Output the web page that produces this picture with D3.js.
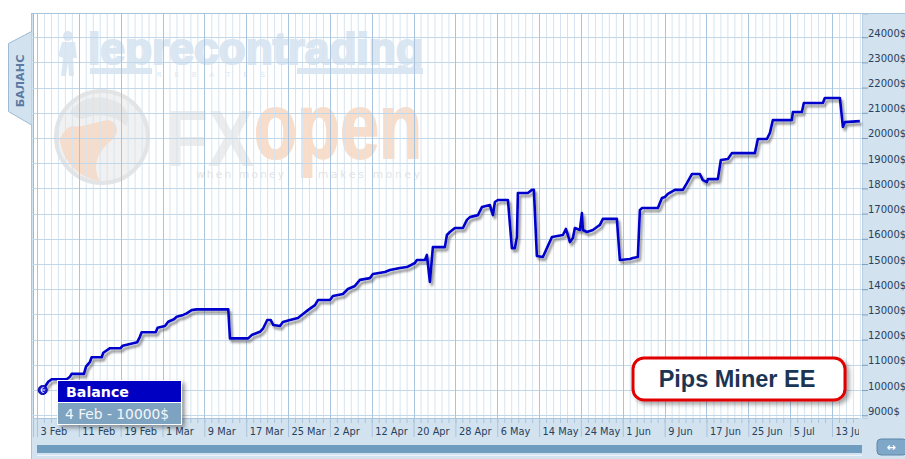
<!DOCTYPE html>
<html>
<head>
<meta charset="utf-8">
<script src="https://cdn.jsdelivr.net/npm/d3@7"></script>
<style>
  html, body { margin: 0; padding: 0; background: #ffffff; }
  svg { display: block; }
</style>
</head>
<body>
<svg id="chart" width="905" height="459" font-family="DejaVu Sans, Verdana, sans-serif"></svg>
<script>
// Trading-day positions (0 = 3 Feb, one unit per trading day) and account balance in $
const tradeDay = [0.82,1.62,2.11,4.26,4.73,4.97,6.74,7.03,7.60,7.84,9.28,9.51,10.47,12.00,12.29,13.33,14.38,14.77,15.01,17.02,17.30,18.35,18.82,19.64,20.03,20.97,21.46,22.18,22.90,27.43,27.67,30.29,30.78,31.97,32.44,33.02,33.51,33.88,34.84,35.27,36.27,37.42,38.14,38.85,39.86,40.29,42.01,42.44,43.87,44.59,45.59,46.31,47.74,48.17,49.89,50.61,52.04,53.05,54.19,54.48,55.63,55.91,56.34,56.77,58.49,58.78,59.21,59.93,61.08,61.65,62.08,63.23,63.80,64.95,65.23,65.38,65.66,66.09,67.53,68.10,68.53,68.82,68.96,70.39,70.97,71.25,71.68,72.54,73.12,73.84,75.41,75.84,76.13,76.42,76.85,77.13,77.85,78.14,78.28,78.85,79.71,80.29,80.72,81.15,83.15,83.58,85.02,85.45,86.16,86.45,86.74,89.03,89.61,90.04,90.47,91.47,92.62,93.19,93.91,95.05,95.48,96.06,96.20,97.63,98.06,99.07,99.64,102.94,103.37,104.66,105.09,105.52,108.24,108.39,109.68,109.96,112.69,112.97,115.13,115.56,115.84,117.99];
const balance = [10000,10330,10430,10430,10530,10640,10640,10930,11120,11300,11300,11480,11660,11660,11760,11830,11900,12120,12290,12290,12470,12540,12710,12810,12910,12980,13040,13170,13200,13200,12050,12050,12180,12310,12450,12780,12780,12580,12540,12700,12780,12860,13020,13170,13370,13570,13570,13730,13810,14010,14130,14370,14440,14600,14680,14760,14840,14880,15040,15160,15160,15360,14290,15670,15670,16150,16270,16430,16430,16750,16860,16940,17260,17340,17060,16940,17460,17540,17540,15630,15630,16070,17820,17820,17940,17940,15320,15280,15630,16070,16150,16390,16150,15870,16030,16430,16350,17020,16350,16270,16350,16470,16550,16790,16790,15160,15200,15240,15280,17140,17220,17220,17620,17660,17780,17940,17940,18210,18570,18570,18330,18250,18370,18370,19130,19170,19400,19400,19960,19960,20200,20710,20710,21030,21030,21390,21390,21590,21590,20440,20630,20670];

// Date labels every six trading days
const dateLabels = ["3 Feb","11 Feb","19 Feb","1 Mar","9 Mar","17 Mar","25 Mar","2 Apr","12 Apr","20 Apr","28 Apr","6 May","14 May","24 May","1 Jun","9 Jun","17 Jun","25 Jun","5 Jul","13 Jul"];
const labelStep = 6;
const balanceTicks = [9000,10000,11000,12000,13000,14000,15000,16000,17000,18000,19000,20000,21000,22000,23000,24000];

const legendTitle = "Balance";
const legendValue = "4 Feb - 10000$";
const seriesName = "Pips Miner EE";
const sideTab = "БАЛАНС";

const plot = { left: 33, right: 862, top: 14, bottom: 418 };

const svg = d3.select("#chart");
const x = d3.scaleLinear().domain([-0.57, 118.3]).range([plot.left, plot.right]);
const y = d3.scaleLinear().domain([8890, 24920]).range([plot.bottom, plot.top]);

const defs = svg.append("defs");
const lineShadow = defs.append("filter").attr("id", "lineShadow")
  .attr("x", "-5%").attr("y", "-5%").attr("width", "110%").attr("height", "115%");
lineShadow.append("feDropShadow").attr("dx", 2).attr("dy", 3).attr("stdDeviation", 1.2)
  .attr("flood-color", "#3a3a3a").attr("flood-opacity", 0.55);
const boxShadow = defs.append("filter").attr("id", "boxShadow")
  .attr("x", "-10%").attr("y", "-20%").attr("width", "125%").attr("height", "150%");
boxShadow.append("feDropShadow").attr("dx", 3).attr("dy", 3).attr("stdDeviation", 2)
  .attr("flood-color", "#000").attr("flood-opacity", 0.35);
defs.append("clipPath").attr("id", "plotClip")
  .append("rect").attr("x", plot.left).attr("y", plot.top)
  .attr("width", plot.right - plot.left).attr("height", plot.bottom - plot.top);
defs.append("clipPath").attr("id", "axisClip")
  .append("rect").attr("x", plot.left).attr("y", plot.bottom)
  .attr("width", plot.right - plot.left - 3).attr("height", 26);

// Panel frame and bands
svg.append("rect").attr("x", 31).attr("y", 13).attr("width", 874).attr("height", 446).attr("fill", "#d2e2ef");
svg.append("rect").attr("x", plot.left).attr("y", plot.top)
  .attr("width", plot.right - plot.left).attr("height", plot.bottom - plot.top).attr("fill", "#ffffff");
svg.append("line").attr("x1", 31).attr("x2", 905).attr("y1", 13.5).attr("y2", 13.5).attr("stroke", "#a9c5dc");
svg.append("line").attr("x1", 31.5).attr("x2", 31.5).attr("y1", 13).attr("y2", 459).attr("stroke", "#a9c5dc");
svg.append("line").attr("x1", 33.5).attr("x2", 33.5).attr("y1", 14).attr("y2", plot.bottom).attr("stroke", "#9dbbd5");

// Side tab
svg.append("path")
  .attr("d", "M31.5,31.5 L8.5,43.5 L8.5,111.5 L31.5,125")
  .attr("fill", "#d2e2ef").attr("stroke", "#9dbbd5");
svg.append("text").attr("transform", "translate(23.5,81) rotate(-90)")
  .attr("text-anchor", "middle").attr("font-size", 11.2).attr("font-weight", "bold")
  .attr("fill", "#5a7aa2").text(sideTab);

// Watermark logos
const wm = svg.append("g").attr("clip-path", "url(#plotClip)");
const fig = wm.append("g").attr("fill", "#dbe8f3");
fig.append("circle").attr("cx", 68).attr("cy", 36).attr("r", 5);
fig.append("path").attr("d", "M62,42 L75,42 L77,58 L73,58 L74,76 L69,76 L68,62 L66,76 L61,76 L63,58 L58,56 Z");
wm.append("text").attr("x", 88).attr("y", 64).attr("font-family", "Liberation Sans Narrow, Liberation Sans, Arial, sans-serif")
  .attr("font-weight", "bold").attr("font-size", 44).attr("fill", "#dae7f3")
  .attr("stroke", "#dae7f3").attr("stroke-width", 2.2)
  .attr("textLength", 335).attr("lengthAdjust", "spacingAndGlyphs").text("leprecontrading");
wm.append("rect").attr("x", 90).attr("y", 68).attr("width", 62).attr("height", 6).attr("fill", "#dae7f3");
wm.append("rect").attr("x", 297).attr("y", 68).attr("width", 126).attr("height", 6).attr("fill", "#dae7f3");
wm.append("text").attr("x", 157).attr("y", 77).attr("font-size", 7).attr("fill", "#dae7f3")
  .attr("textLength", 108).attr("lengthAdjust", "spacing").text("REBATES");
// bull emblem
wm.append("circle").attr("cx", 102).attr("cy", 137).attr("r", 46).attr("fill", "#f1f1f1").attr("stroke", "#e4e4e4").attr("stroke-width", 4);
wm.append("path").attr("d", "M60,140 C62,160 78,178 100,181 C92,168 96,152 112,140 C120,133 118,122 108,120 C95,122 82,128 72,126 C66,128 62,133 60,140 Z")
  .attr("fill", "#f6dccb");
wm.append("path").attr("d", "M70,112 C80,98 96,94 112,100 C126,104 132,116 126,126 C116,116 100,112 86,118 C80,120 74,118 70,112 Z")
  .attr("fill", "#e6e6e6");
wm.append("text").attr("x", 166).attr("y", 166).attr("font-family", "Liberation Sans, Arial, sans-serif")
  .attr("font-weight", "bold").attr("font-size", 80).attr("fill", "#ececec")
  .attr("textLength", 88).attr("lengthAdjust", "spacingAndGlyphs").text("FX");
wm.append("text").attr("x", 254).attr("y", 158).attr("font-family", "Liberation Sans, Arial, sans-serif")
  .attr("font-weight", "bold").attr("font-size", 92).attr("fill", "#f8ddca")
  .attr("stroke", "#f8ddca").attr("stroke-width", 2)
  .attr("textLength", 168).attr("lengthAdjust", "spacingAndGlyphs").text("open");
wm.append("text").attr("x", 196).attr("y", 178).attr("font-size", 10.5).attr("fill", "#e4e4e4")
  .attr("textLength", 88).attr("lengthAdjust", "spacing").text("when money");
wm.append("text").attr("x", 318).attr("y", 178).attr("font-size", 10.5).attr("fill", "#e4e4e4")
  .attr("textLength", 102).attr("lengthAdjust", "spacing").text("makes money");

// Grid
const grid = svg.append("g").attr("clip-path", "url(#plotClip)");
const minorDays = d3.range(0, 119);
grid.selectAll(".vminor").data(minorDays.filter(d => d % labelStep !== 0)).join("line")
  .attr("x1", d => x(d) + 0.5).attr("x2", d => x(d) + 0.5)
  .attr("y1", plot.top).attr("y2", plot.bottom).attr("stroke", "#d6e4f0");
grid.selectAll(".hline").data(balanceTicks).join("line")
  .attr("x1", plot.left).attr("x2", plot.right)
  .attr("y1", d => Math.round(y(d)) + 0.5).attr("y2", d => Math.round(y(d)) + 0.5)
  .attr("stroke", "#c2d7e8");
grid.selectAll(".vmajor").data(dateLabels.map((_, k) => k * labelStep)).join("line")
  .attr("x1", d => Math.round(x(d)) + 0.5).attr("x2", d => Math.round(x(d)) + 0.5)
  .attr("y1", plot.top).attr("y2", plot.bottom).attr("stroke", "#a9c4dc");

// X axis (minor ticks, then labelled major ticks), clipped at the value band
const xArea = svg.append("g").attr("clip-path", "url(#axisClip)");
const xMinor = d3.axisBottom(x).tickValues(minorDays).tickSize(5).tickFormat("");
xArea.append("g").attr("transform", `translate(0,${plot.bottom})`)
  .call(xMinor).call(g => g.select(".domain").remove())
  .call(g => g.selectAll("line").attr("stroke", "#a9c4dc"));
const xMajor = d3.axisBottom(x)
  .tickValues(dateLabels.map((_, k) => k * labelStep))
  .tickSize(19)
  .tickFormat((d, k) => dateLabels[k]);
xArea.append("g").attr("transform", `translate(0,${plot.bottom})`)
  .call(xMajor)
  .call(g => g.select(".domain").attr("stroke", "#a9c4dc"))
  .call(g => g.selectAll("line").attr("stroke", "#a9c4dc"))
  .call(g => g.selectAll("text").attr("text-anchor", "start").attr("x", 3).attr("y", 10)
    .attr("font-family", "DejaVu Sans, Verdana, sans-serif").attr("font-size", 9.8).attr("fill", "#26415e"));

// Y axis on the right
const yAxis = d3.axisRight(y).tickValues(balanceTicks).tickSize(6).tickFormat(d => d + "$");
svg.append("g").attr("transform", `translate(${plot.right},0)`)
  .call(yAxis)
  .call(g => g.select(".domain").attr("stroke", "#b8cfe2"))
  .call(g => g.selectAll("line").attr("stroke", "#7f9fbf"))
  .call(g => g.selectAll("text").attr("x", 6).attr("dy", "-0.1em")
    .attr("font-family", "DejaVu Sans, Verdana, sans-serif").attr("font-size", 10).attr("fill", "#26415e"));

// Scrollbar and button
svg.append("rect").attr("x", 37).attr("y", 445).attr("width", plot.right - 37).attr("height", 8).attr("fill", "#6f9dbf");
svg.append("line").attr("x1", 37).attr("x2", 862).attr("y1", 455.5).attr("y2", 455.5).attr("stroke", "#eef4f9");
svg.append("rect").attr("x", 877).attr("y", 439).attr("width", 30).attr("height", 16).attr("rx", 4)
  .attr("fill", "#7fa7c8").attr("stroke", "#5f87a8");
svg.append("text").attr("x", 891).attr("y", 451).attr("text-anchor", "middle").attr("font-size", 11)
  .attr("font-weight", "bold").attr("fill", "#ffffff").text("↔");

// Balance line
const line = d3.line().x(d => x(d[0])).y(d => y(d[1]));
const points = tradeDay.map((d, k) => [d, balance[k]]);
svg.append("path").datum(points)
  .attr("d", line).attr("fill", "none").attr("stroke", "#0000cc").attr("stroke-width", 2.6)
  .attr("stroke-linejoin", "round").attr("filter", "url(#lineShadow)");

// Start marker
const sx = x(tradeDay[0]), sy = y(balance[0]);
svg.append("circle").attr("cx", sx).attr("cy", sy).attr("r", 4.5).attr("fill", "#1a1ad0").attr("stroke", "#0000a0");
svg.append("path").attr("d", `M${sx - 2},${sy} L${sx + 2.5},${sy} M${sx + 1},${sy - 2.5} A2.5,2.5 0 1 0 ${sx + 1},${sy + 2.5}`)
  .attr("fill", "none").attr("stroke", "#ffffff").attr("stroke-width", 1);

// Tooltip legend
const tip = svg.append("g").attr("filter", "url(#boxShadow)");
tip.append("rect").attr("x", 57.5).attr("y", 380.5).attr("width", 124).attr("height", 22).attr("fill", "#0000c2").attr("stroke", "#ffffff");
tip.append("rect").attr("x", 57.5).attr("y", 402.5).attr("width", 124).attr("height", 22).attr("fill", "#7ea3c0").attr("stroke", "#ffffff");
svg.append("text").attr("x", 66).attr("y", 397).attr("font-size", 14.2).attr("font-weight", "bold")
  .attr("fill", "#ffffff").text(legendTitle);
svg.append("text").attr("x", 65).attr("y", 419).attr("font-size", 13.8)
  .attr("fill", "#f4f7fa").text(legendValue);

// Series name badge
svg.append("rect").attr("x", 633).attr("y", 358).attr("width", 212).attr("height", 42).attr("rx", 11)
  .attr("fill", "#ffffff").attr("stroke", "#e00000").attr("stroke-width", 3).attr("filter", "url(#boxShadow)");
svg.append("text").attr("x", 737).attr("y", 387).attr("text-anchor", "middle")
  .attr("font-family", "Liberation Sans, Arial, sans-serif").attr("font-weight", "bold").attr("font-size", 23.5)
  .attr("fill", "#1c3553").text(seriesName);
</script>
</body>
</html>
